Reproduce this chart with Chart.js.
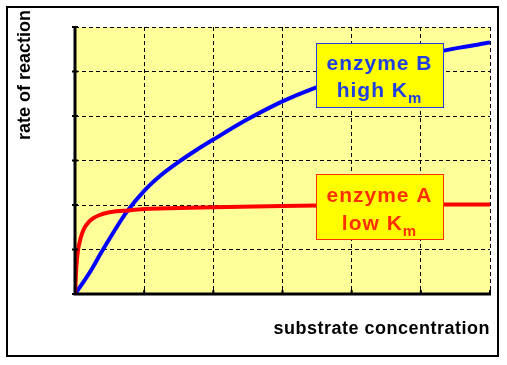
<!DOCTYPE html>
<html>
<head>
<meta charset="utf-8">
<script src="https://cdn.jsdelivr.net/npm/chart.js@4"></script>
<style>
    body { margin: 0; background: #ffffff; }
    #wrap { width: 507px; height: 365px; }
</style>
</head>
<body>
<div id="wrap"><canvas id="mmChart" width="507" height="365"></canvas></div>
<script>
// substrate concentration (arbitrary units, 6 grid divisions)
const concA = [0, 0.02, 0.04, 0.06, 0.1, 0.15, 0.2, 0.26, 0.35, 0.45, 0.55, 0.7, 1, 1.5, 2, 3, 4, 5, 6];
const rateA = [0, 0.62, 0.95, 1.12, 1.35, 1.52, 1.62, 1.7, 1.77, 1.82, 1.85, 1.87, 1.91, 1.93, 1.95, 1.98, 2.0, 2.01, 2.01];

const concB = [0, 0.1, 0.25, 0.36, 0.55, 0.75, 1, 1.25, 1.5, 1.75, 2, 2.5, 3, 3.5, 4, 4.5, 5, 5.5, 6];
const rateB = [0, 0.22, 0.58, 0.88, 1.37, 1.85, 2.32, 2.68, 2.97, 3.23, 3.47, 3.93, 4.33, 4.65, 4.92, 5.15, 5.35, 5.52, 5.65];

const xTicks = [0, 1, 2, 3, 4, 5, 6];
const yTicks = [0, 1, 2, 3, 4, 5, 6];

const labelFont = 'bold 18px "Liberation Sans", Arial, sans-serif';
const boxFont = 'bold 21px "Liberation Sans", Arial, sans-serif';
const subFont = 'bold 15px "Liberation Sans", Arial, sans-serif';

function toPoints(xs, ys) {
    return xs.map((x, i) => ({ x: x, y: ys[i] }));
}

// frame, plot background and axis titles
const framePlugin = {
    id: 'frame',
    beforeDraw(chart) {
        const ctx = chart.ctx;
        const a = chart.chartArea;
        ctx.save();
        ctx.fillStyle = '#ffffff';
        ctx.fillRect(0, 0, chart.width, chart.height);
        ctx.strokeStyle = '#000000';
        ctx.lineWidth = 2;
        ctx.strokeRect(7, 7, 491, 349);
        ctx.fillStyle = '#ffff99';
        ctx.fillRect(a.left, a.top, a.right - a.left, a.bottom - a.top);

        ctx.fillStyle = '#000000';
        ctx.font = labelFont;
        ctx.textAlign = 'right';
        ctx.textBaseline = 'middle';
        ctx.letterSpacing = '0.5px';
        ctx.fillText('substrate concentration', a.right, 329);
        ctx.letterSpacing = '0px';

        ctx.translate(25, 10);
        ctx.rotate(-Math.PI / 2);
        ctx.textAlign = 'right';
        ctx.fillText('rate of reaction', 0, 0);
        ctx.restore();
    },
    afterDatasetsDraw(chart) {
        const ctx = chart.ctx;
        const a = chart.chartArea;
        ctx.save();
        // solid left and bottom axes
        ctx.strokeStyle = '#000000';
        ctx.lineWidth = 3;
        ctx.beginPath();
        ctx.moveTo(a.left, a.top - 1);
        ctx.lineTo(a.left, a.bottom);
        ctx.lineTo(a.right + 1, a.bottom);
        ctx.stroke();
        // small tick stubs on the axes
        ctx.lineWidth = 2;
        const ys = chart.scales.y;
        yTicks.forEach(v => {
            const py = ys.getPixelForValue(v);
            ctx.beginPath();
            ctx.moveTo(a.left - 3, py);
            ctx.lineTo(a.left + 3, py);
            ctx.stroke();
        });
        const xs = chart.scales.x;
        xTicks.forEach(v => {
            const px = xs.getPixelForValue(v);
            ctx.beginPath();
            ctx.moveTo(px, a.bottom);
            ctx.lineTo(px, a.bottom - 4);
            ctx.stroke();
        });

        drawBox(ctx, 316, 43, 127, 64, '#1f3fe0', 'enzyme B', 'high K', 27, 54);
        drawBox(ctx, 316, 174, 127, 65, '#ff3000', 'enzyme A', 'low K', 28, 56);
        ctx.restore();
    }
};

function drawBox(ctx, x, y, w, h, color, line1, line2, base1, base2) {
    ctx.fillStyle = '#ffff00';
    ctx.fillRect(x, y, w, h);
    ctx.strokeStyle = color;
    ctx.lineWidth = 1;
    ctx.strokeRect(x + 0.5, y + 0.5, w, h);
    ctx.fillStyle = color;
    ctx.textBaseline = 'alphabetic';
    ctx.textAlign = 'center';
    ctx.font = boxFont;
    ctx.letterSpacing = '1px';
    const cx = x + w / 2;
    ctx.fillText(line1, cx, y + base1);
    // second line with subscript m
    const mainW = ctx.measureText(line2).width;
    ctx.font = subFont;
    const subW = ctx.measureText('m').width;
    const startX = cx - (mainW + subW) / 2;
    ctx.textAlign = 'left';
    ctx.font = boxFont;
    ctx.fillText(line2, startX, y + base2);
    ctx.font = subFont;
    ctx.fillText('m', startX + mainW, y + base2 + 6);
    ctx.letterSpacing = '0px';
}

const ctx = document.getElementById('mmChart').getContext('2d');
new Chart(ctx, {
    type: 'line',
    data: {
        datasets: [
            {
                label: 'enzyme A',
                data: toPoints(concA, rateA),
                borderColor: '#ff0000',
                borderWidth: 4,
                pointRadius: 0,
                cubicInterpolationMode: 'monotone'
            },
            {
                label: 'enzyme B',
                data: toPoints(concB, rateB),
                borderColor: '#0000ff',
                borderWidth: 4,
                pointRadius: 0,
                cubicInterpolationMode: 'monotone'
            }
        ]
    },
    options: {
        responsive: false,
        animation: false,
        layout: { padding: { left: 75, right: 17, top: 27, bottom: 71 } },
        plugins: {
            legend: { display: false },
            tooltip: { enabled: false }
        },
        scales: {
            x: {
                type: 'linear',
                min: 0,
                max: 6,
                afterBuildTicks: axis => { axis.ticks = xTicks.map(v => ({ value: v })); },
                ticks: { display: false },
                border: { display: false, dash: [4, 3] },
                grid: { color: '#000000', lineWidth: 1, drawTicks: false }
            },
            y: {
                min: 0,
                max: 6,
                afterBuildTicks: axis => { axis.ticks = yTicks.map(v => ({ value: v })); },
                ticks: { display: false },
                border: { display: false, dash: [4, 3] },
                grid: { color: '#000000', lineWidth: 1, drawTicks: false }
            }
        }
    },
    plugins: [framePlugin]
});
</script>
</body>
</html>
